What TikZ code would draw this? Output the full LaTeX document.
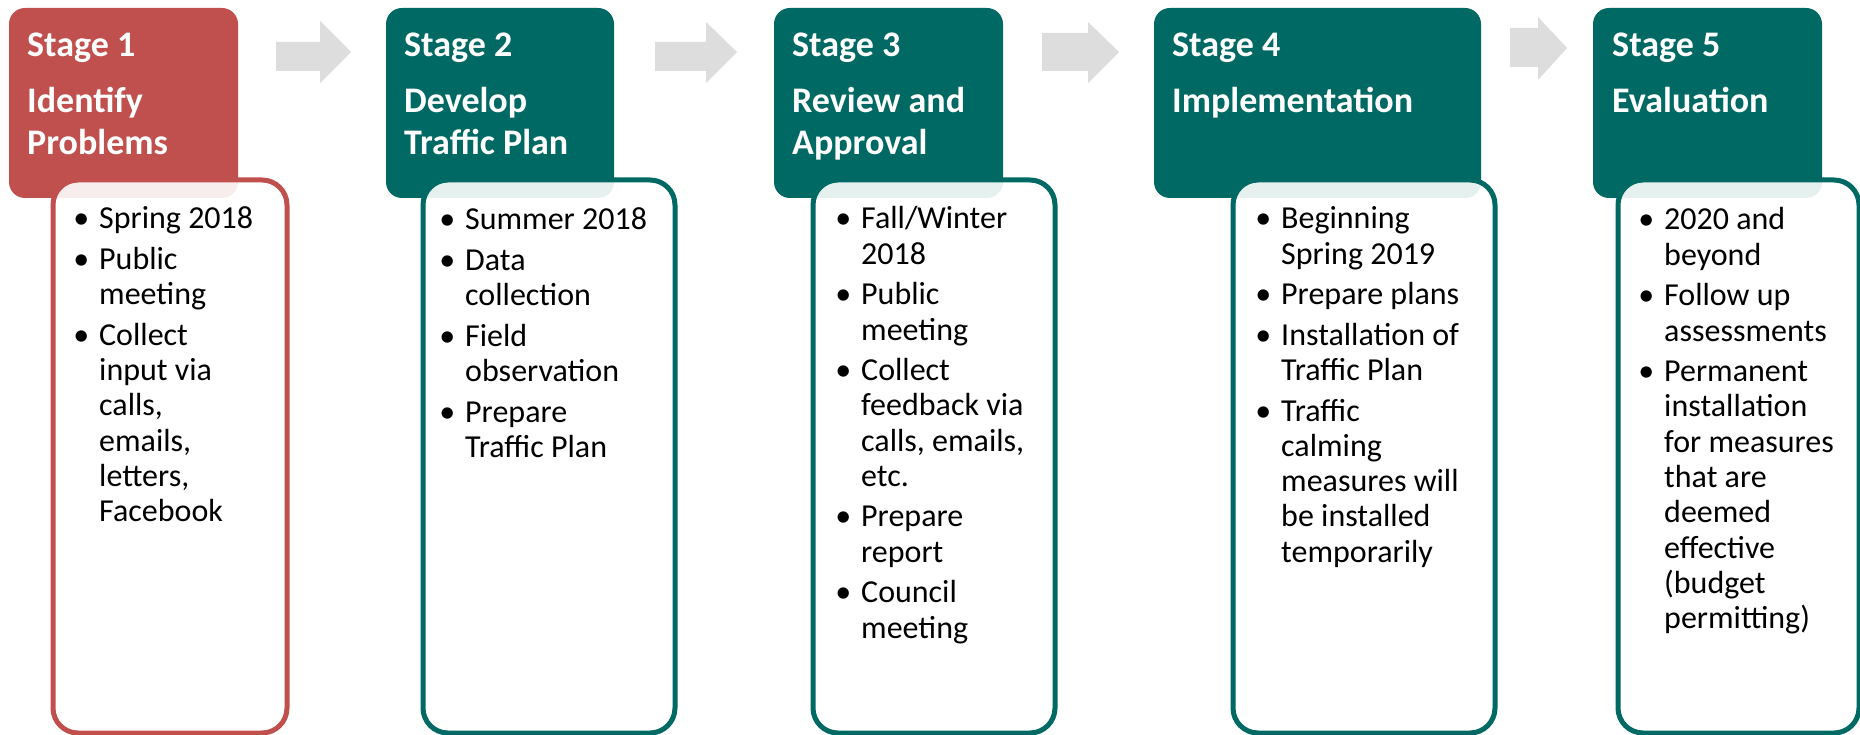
\documentclass[tikz,border=0pt]{standalone}
\usepackage{fontspec}
\setmainfont{Carlito}
\definecolor{redh}{HTML}{C0504D}
\definecolor{tealh}{HTML}{006963}
\definecolor{arrowgray}{HTML}{DDDDDD}
\newcommand\bul{\llap{\textbullet\hspace{10pt}}}
\newcommand\lines[1]{\begin{tabular}[t]{@{}l@{}}#1\end{tabular}}
\begin{document}
\begin{tikzpicture}[x=1pt,y=-1pt,
  header/.style={rectangle, rounded corners=16pt, anchor=north west, inner sep=0pt, outer sep=0pt, minimum height=190pt},
  content/.style={rectangle, rounded corners=25pt, line width=5pt, fill=white, fill opacity=0.9, anchor=north west, inner sep=0pt, minimum height=553pt},
  htext/.style={anchor=base west, text=white, font=\fontsize{36}{42}\selectfont\bfseries, inner sep=0pt},
  btext/.style={anchor=base west, text=black, font=\fontsize{32}{35.3}\selectfont, inner sep=0pt},
  flow/.style={fill=arrowgray}]
\useasboundingbox (0,0) rectangle (1860,735);
% headers
\node[header, fill=redh,  minimum width=229pt] (h1) at (9,8) {};
\node[header, fill=tealh, minimum width=228pt] (h2) at (386,8) {};
\node[header, fill=tealh, minimum width=229pt] (h3) at (774,8) {};
\node[header, fill=tealh, minimum width=327pt] (h4) at (1154,8) {};
\node[header, fill=tealh, minimum width=229pt] (h5) at (1593,8) {};
% arrows
\fill[flow] (276,42) -- (320,42) -- (320,21) -- (351,52) -- (320,83) -- (320,71) -- (276,71) -- cycle;
\fill[flow] (655,42) -- (706,42) -- (706,22) -- (737,52) -- (706,83) -- (706,71) -- (655,71) -- cycle;
\fill[flow] (1042,33) -- (1088,33) -- (1088,22) -- (1119,52) -- (1088,83) -- (1088,71) -- (1042,71) -- cycle;
\fill[flow] (1510,28) -- (1538,28) -- (1538,17) -- (1567,48) -- (1538,80) -- (1538,67) -- (1510,67) -- cycle;
% content boxes
\node[content, draw=redh,  minimum width=234pt] (c1) at (50.5,177.5) {};
\node[content, draw=tealh, minimum width=252pt] (c2) at (420.5,177.5) {};
\node[content, draw=tealh, minimum width=242pt] (c3) at (810.5,177.5) {};
\node[content, draw=tealh, minimum width=262pt] (c4) at (1230.5,177.5) {};
\node[content, draw=tealh, minimum width=241pt] (c5) at (1615.5,177.5) {};
% header texts
\node[htext] (t1) at (27,57) {\lines{Stage 1\\[14pt]Identify\\Problems}};
\node[htext] (t2) at (404,57) {\lines{Stage 2\\[14pt]Develop\\Traffic Plan}};
\node[htext] (t3) at (792,57) {\lines{Stage 3\\[14pt]Review and\\Approval}};
\node[htext] (t4) at (1172,57) {\lines{Stage 4\\[14pt]Implementation}};
\node[htext] (t5) at (1612,57) {\lines{Stage 5\\[14pt]Evaluation}};
% body texts
\node[btext] (b1) at (99,229) {\lines{\bul Spring 2018\\[5.2pt]\bul Public\\meeting\\[5.2pt]\bul Collect\\input via\\calls,\\emails,\\letters,\\Facebook}};
\node[btext] (b2) at (465,230) {\lines{\bul Summer 2018\\[5.2pt]\bul Data\\collection\\[5.2pt]\bul Field\\observation\\[5.2pt]\bul Prepare\\Traffic Plan}};
\node[btext] (b3) at (861,229) {\lines{\bul Fall/Winter\\2018\\[5.2pt]\bul Public\\meeting\\[5.2pt]\bul Collect\\feedback via\\calls, emails,\\etc.\\[5.2pt]\bul Prepare\\report\\[5.2pt]\bul Council\\meeting}};
\node[btext] (b4) at (1281,229) {\lines{\bul Beginning\\Spring 2019\\[5.2pt]\bul Prepare plans\\[5.2pt]\bul Installation of\\Traffic Plan\\[5.2pt]\bul Traffic\\calming\\measures will\\be installed\\temporarily}};
\node[btext] (b5) at (1664,230) {\lines{\bul 2020 and\\beyond\\[5.2pt]\bul Follow up\\assessments\\[5.2pt]\bul Permanent\\installation\\for measures\\that are\\deemed\\effective\\(budget\\permitting)}};
\end{tikzpicture}
\end{document}
